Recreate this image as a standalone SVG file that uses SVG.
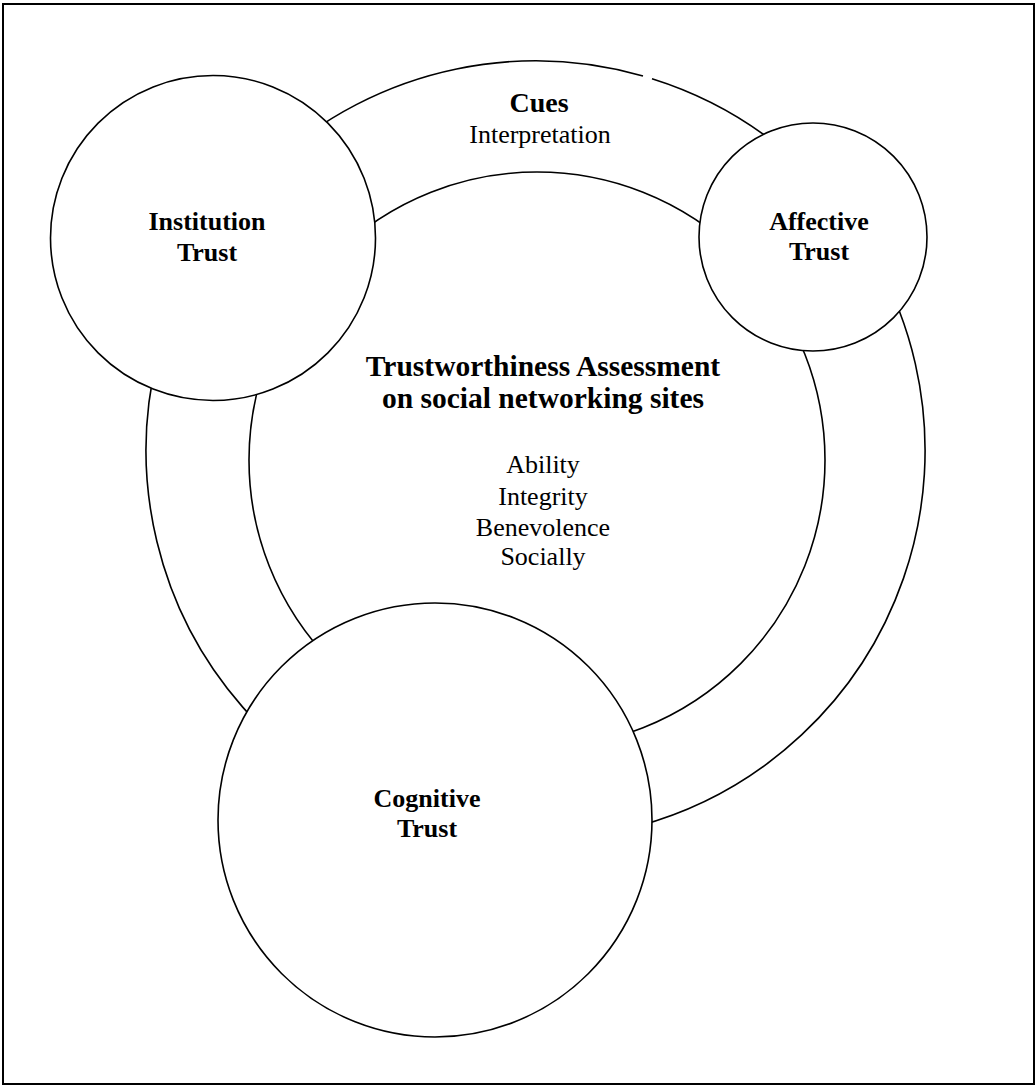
<svg xmlns="http://www.w3.org/2000/svg" width="1036" height="1086" viewBox="0 0 1036 1086">
<style>
.ln{fill:none;stroke:#000;stroke-width:1.6}
.nd{fill:#fff;stroke:#000;stroke-width:1.6}
text{font-family:"Liberation Serif","Times New Roman",serif;fill:#000;text-anchor:middle}
.b{font-weight:bold;font-size:26px}
.r{font-size:26px}
</style>
<rect x="0" y="0" width="1036" height="1086" fill="#fff"/>
<rect x="3" y="4" width="1031" height="1080" fill="none" stroke="#000" stroke-width="2"/>
<g id="connectors">
<path class="ln" d="M 643 76 A 389.5 389.5 0 1 0 652 78.7"/>
<circle class="ln" cx="537" cy="460" r="288"/>
</g>
<g id="cues">
<text x="539" y="112" font-weight="bold" font-size="28">Cues</text>
<text class="r" x="540" y="143">Interpretation</text>
</g>
<g id="assessment">
<text x="543" y="376" font-weight="bold" font-size="29.5">Trustworthiness Assessment</text>
<text x="543" y="408" font-weight="bold" font-size="29.5">on social networking sites</text>
<text class="r" x="543" y="473">Ability</text>
<text class="r" x="543" y="505">Integrity</text>
<text class="r" x="543" y="536">Benevolence</text>
<text class="r" x="543" y="565">Socially</text>
</g>
<g id="institution">
<circle class="nd" cx="213" cy="238" r="162.5"/>
<text class="b" x="207" y="230">Institution</text>
<text class="b" x="207" y="261">Trust</text>
</g>
<g id="affective">
<circle class="nd" cx="813" cy="237" r="114"/>
<text class="b" x="819" y="230">Affective</text>
<text class="b" x="819" y="260">Trust</text>
</g>
<g id="cognitive">
<circle class="nd" cx="435" cy="820" r="217"/>
<text class="b" x="427" y="807">Cognitive</text>
<text class="b" x="427" y="837">Trust</text>
</g>
</svg>
